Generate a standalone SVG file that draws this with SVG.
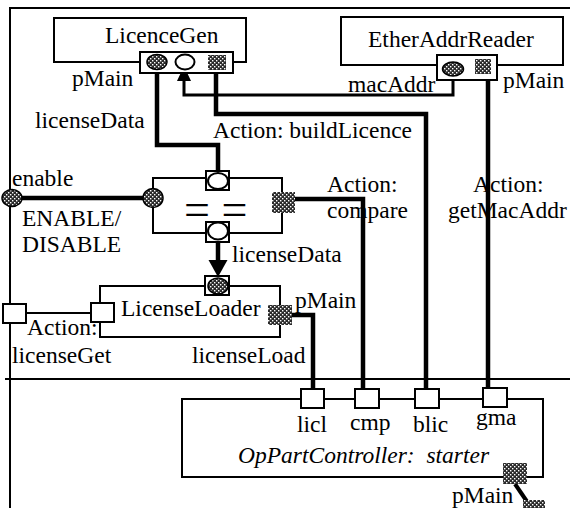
<svg xmlns="http://www.w3.org/2000/svg" width="570" height="508" viewBox="0 0 570 508">
  <style>
    text { font-family: "Liberation Serif", "Times New Roman", serif; font-size: 23.5px; fill: #000; }
    .it { font-style: italic; }
    .box { fill: #fff; stroke: #000; stroke-width: 2; }
    .frame { fill: none; stroke: #000; stroke-width: 2; }
    .port { fill: #fff; stroke: #000; stroke-width: 2; }
    .dot { fill: url(#dots); stroke: #000; stroke-width: 1.5; }
    .dotsq { fill: url(#dots); stroke: none; }
    .open { fill: #fff; stroke: #000; stroke-width: 2; }
    .wire { fill: none; stroke: #000; stroke-width: 4.5; stroke-linejoin: miter; }
    .wire-thin { fill: none; stroke: #000; stroke-width: 3; }
    .link { fill: none; stroke: #000; stroke-width: 2; }
    .eq { font-size: 46px; }
  </style>
  <defs>
    <pattern id="dots" width="4" height="4" patternUnits="userSpaceOnUse">
      <rect width="4" height="4" fill="#2a2a2a"/>
      <rect x="0" y="0" width="1.4" height="1.4" fill="#fff"/>
      <rect x="2" y="2" width="1.4" height="1.4" fill="#fff"/>
    </pattern>
  </defs>

  <!-- outer frame and divider -->
  <g id="frame">
    <path class="frame" d="M10,508 V8 H570"/>
    <line class="frame" x1="5" y1="379" x2="570" y2="379"/>
  </g>

  <!-- connectors -->
  <g id="connectors">
    <!-- licenseData: LicenceGen pMain to comparator input -->
    <path class="wire" d="M157,68 V145 H218 V176"/>
    <!-- buildLicence: LicenceGen to controller blic -->
    <path class="wire" d="M216,68 V114 H426 V397"/>
    <!-- macAddr: EtherAddrReader to LicenceGen input -->
    <path class="wire-thin" d="M453,74 V95 H184 V80"/>
    <polygon points="184,66 177,81 191,81" fill="#000"/>
    <!-- getMacAddr -->
    <path class="wire" d="M488,72 V396"/>
    <!-- compare -->
    <path class="wire" d="M292,199 H363 V402"/>
    <!-- licenseLoad -->
    <path class="wire" d="M290,315 H313 V402"/>
    <!-- enable -->
    <path class="wire" d="M20,198 H145"/>
    <!-- comparator output to LicenseLoader -->
    <path class="wire" d="M218,240 V261"/>
    <polygon points="218,277 208.5,260 227.5,260" fill="#000"/>
    <!-- licenseGet -->
    <line class="link" x1="26" y1="313" x2="91" y2="313"/>
    <!-- controller pMain -->
    <line x1="515" y1="484" x2="528" y2="503" stroke="#000" stroke-width="4"/>
  </g>

  <!-- LicenceGen -->
  <g id="licenceGen">
    <rect class="box" x="54" y="18" width="192" height="44"/>
    <text x="105" y="43">LicenceGen</text>
    <rect class="box" x="140" y="52" width="93" height="21"/>
    <ellipse class="dot" cx="157" cy="62" rx="10" ry="7.5"/>
    <ellipse class="open" cx="185" cy="62" rx="9.5" ry="7.5"/>
    <rect class="dotsq" x="208" y="55" width="18" height="15"/>
    <text x="72" y="86">pMain</text>
  </g>

  <!-- EtherAddrReader -->
  <g id="etherAddrReader">
    <rect class="box" x="341" y="17" width="222" height="48"/>
    <text x="368" y="47">EtherAddrReader</text>
    <rect class="box" x="437" y="55" width="60" height="25"/>
    <ellipse class="dot" cx="453" cy="69" rx="10.5" ry="7"/>
    <rect class="dotsq" x="475" y="59" width="16" height="15"/>
    <text x="348" y="92">macAddr</text>
    <text x="503" y="88">pMain</text>
  </g>

  <!-- comparator -->
  <g id="comparator">
    <rect class="box" x="153" y="178" width="129" height="55"/>
    <rect class="port" x="206" y="171" width="23" height="19"/>
    <ellipse class="open" cx="218" cy="181" rx="10" ry="8"/>
    <rect class="port" x="206" y="222" width="23" height="20"/>
    <ellipse class="open" cx="218" cy="231" rx="10" ry="8.5"/>
    <ellipse class="dot" cx="153" cy="198" rx="10" ry="9.5"/>
    <rect class="dotsq" x="272" y="192" width="23" height="21"/>
    <text class="eq" x="184" y="225">= =</text>
  </g>

  <!-- enable port -->
  <g id="enable">
    <ellipse class="dot" cx="12" cy="198" rx="10" ry="8.5"/>
    <text x="12" y="186">enable</text>
    <text x="22" y="226">ENABLE/</text>
    <text x="22" y="252">DISABLE</text>
  </g>

  <!-- LicenseLoader -->
  <g id="licenseLoader">
    <rect class="box" x="100" y="286" width="180" height="51"/>
    <rect class="port" x="205" y="276" width="24" height="19"/>
    <ellipse class="dot" cx="218" cy="286" rx="10" ry="8"/>
    <rect class="port" x="91" y="303" width="23" height="19"/>
    <text x="121" y="316">LicenseLoader</text>
    <rect class="dotsq" x="268" y="305" width="24" height="20"/>
    <text x="295" y="308">pMain</text>
    <text x="192" y="363">licenseLoad</text>
  </g>

  <!-- licenseGet port -->
  <g id="licenseGet">
    <rect class="port" x="3" y="304" width="23" height="19"/>
    <text x="27" y="335">Action:</text>
    <text x="12" y="363">licenseGet</text>
  </g>

  <!-- action labels -->
  <g id="labels">
    <text x="35" y="128">licenseData</text>
    <text x="213" y="138">Action: buildLicence</text>
    <text x="327" y="192">Action:</text>
    <text x="327" y="218">compare</text>
    <text x="473" y="192">Action:</text>
    <text x="448" y="218">getMacAddr</text>
    <text x="232" y="262">licenseData</text>
  </g>

  <!-- OpPartController -->
  <g id="opPartController">
    <rect class="box" x="182" y="399" width="361" height="78"/>
    <rect class="port" x="301" y="389" width="23" height="19"/>
    <rect class="port" x="355" y="389" width="24" height="19"/>
    <rect class="port" x="415" y="389" width="24" height="19"/>
    <rect class="port" x="483" y="388" width="24" height="19"/>
    <text x="297" y="432">licl</text>
    <text x="350" y="430">cmp</text>
    <text x="413" y="432">blic</text>
    <text x="476" y="425">gma</text>
    <text class="it" x="238" y="463" xml:space="preserve">OpPartController:  starter</text>
    <rect class="dotsq" x="503" y="463" width="24" height="21"/>
    <rect class="dotsq" x="523" y="500" width="22" height="10"/>
    <text x="452" y="503">pMain</text>
  </g>
</svg>
